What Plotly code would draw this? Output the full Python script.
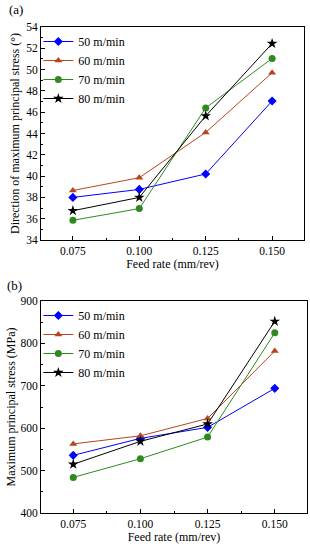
import plotly.graph_objects as go

feed = [0.075, 0.100, 0.125, 0.150]
series_names = ["50 m/min", "60 m/min", "70 m/min", "80 m/min"]

dir_50 = [38.0, 38.75, 40.2, 47.05]
dir_60 = [38.65, 39.85, 44.1, 49.7]
dir_70 = [35.85, 36.95, 46.4, 51.05]
dir_80 = [36.75, 38.0, 45.65, 52.45]

mps_50 = [536, 576, 602, 694]
mps_60 = [563, 582, 623, 782]
mps_70 = [484, 528, 579, 825]
mps_80 = [515, 569, 610, 852]

x_ticks = [0.075, 0.100, 0.125, 0.150]
x_tick_text = ["0.075", "0.100", "0.125", "0.150"]

colors = ["#0000ff", "#b8431f", "#2e8a1e", "#000000"]
symbols = ["diamond", "triangle-up", "circle", "star"]
sizes = [7, 7, 7, 8]

FONT = "Liberation Serif"

fig = go.Figure()

for name, vals, c, s, sz in zip(series_names, [dir_50, dir_60, dir_70, dir_80], colors, symbols, sizes):
    fig.add_trace(go.Scatter(x=feed, y=vals, name=name, mode="lines+markers",
                             line=dict(color=c, width=1), marker=dict(symbol=s, size=sz, color=c),
                             xaxis="x", yaxis="y", legend="legend"))

for name, vals, c, s, sz in zip(series_names, [mps_50, mps_60, mps_70, mps_80], colors, symbols, sizes):
    fig.add_trace(go.Scatter(x=feed, y=vals, name=name, mode="lines+markers",
                             line=dict(color=c, width=1), marker=dict(symbol=s, size=sz, color=c),
                             xaxis="x2", yaxis="y2", legend="legend2"))

axis_common = dict(showline=True, linecolor="black", linewidth=1, mirror=True, automargin=False,
                   ticks="inside", ticklen=4, tickcolor="black", showgrid=False, zeroline=False,
                   tickfont=dict(family=FONT, size=11.5, color="black"))

fig.update_layout(
    template="none",
    width=310, height=550,
    margin=dict(l=41, r=3, t=27, b=37),
    paper_bgcolor="white", plot_bgcolor="white",
    font=dict(family=FONT, color="black", size=12),
    showlegend=True,
    xaxis=dict(domain=[0, 0.9887], anchor="y", range=[0.063, 0.162],
               tickvals=x_ticks, ticktext=x_tick_text,
               title=dict(text="Feed rate (mm/rev)", font=dict(family=FONT, size=12), standoff=3),
               minor=dict(ticks="inside", ticklen=2, tickcolor="black", dtick=0.0125, tick0=0.075),
               **axis_common),
    yaxis=dict(domain=[0.5617, 1.0], anchor="x", range=[34, 54], dtick=2,
               title=dict(text="Direction of maximum principal stress (°)", font=dict(family=FONT, size=12), standoff=3),
               minor=dict(ticks="inside", ticklen=2, tickcolor="black", dtick=1),
               **axis_common),
    xaxis2=dict(domain=[0, 1.0], anchor="y2", range=[0.063, 0.162],
                tickvals=x_ticks, ticktext=x_tick_text,
                title=dict(text="Feed rate (mm/rev)", font=dict(family=FONT, size=12), standoff=3),
                minor=dict(ticks="inside", ticklen=2, tickcolor="black", dtick=0.0125, tick0=0.075),
                **axis_common),
    yaxis2=dict(domain=[0, 0.4362], anchor="x2", range=[400, 900], dtick=100,
                title=dict(text="Maximum principal stress (MPa)", font=dict(family=FONT, size=12), standoff=2),
                minor=dict(ticks="inside", ticklen=2, tickcolor="black", dtick=50),
                **axis_common),
    legend=dict(x=-0.01, y=1.0, xanchor="left", yanchor="top", bgcolor="rgba(0,0,0,0)",
                font=dict(family=FONT, size=12), tracegroupgap=0),
    legend2=dict(x=-0.01, y=0.4362, xanchor="left", yanchor="top", bgcolor="rgba(0,0,0,0)",
                 font=dict(family=FONT, size=12), tracegroupgap=0),
    annotations=[
        dict(text="(a)", xref="paper", yref="paper", x=-0.128, y=1.035, xanchor="left", yanchor="middle",
             showarrow=False, font=dict(family=FONT, size=13)),
        dict(text="(b)", xref="paper", yref="paper", x=-0.135, y=0.469, xanchor="left", yanchor="middle",
             showarrow=False, font=dict(family=FONT, size=13)),
    ],
)

fig.write_html(
    "out.html",
    config={"displayModeBar": False},
    post_script="document.body.style.margin='0';document.body.style.overflow='hidden';",
)
